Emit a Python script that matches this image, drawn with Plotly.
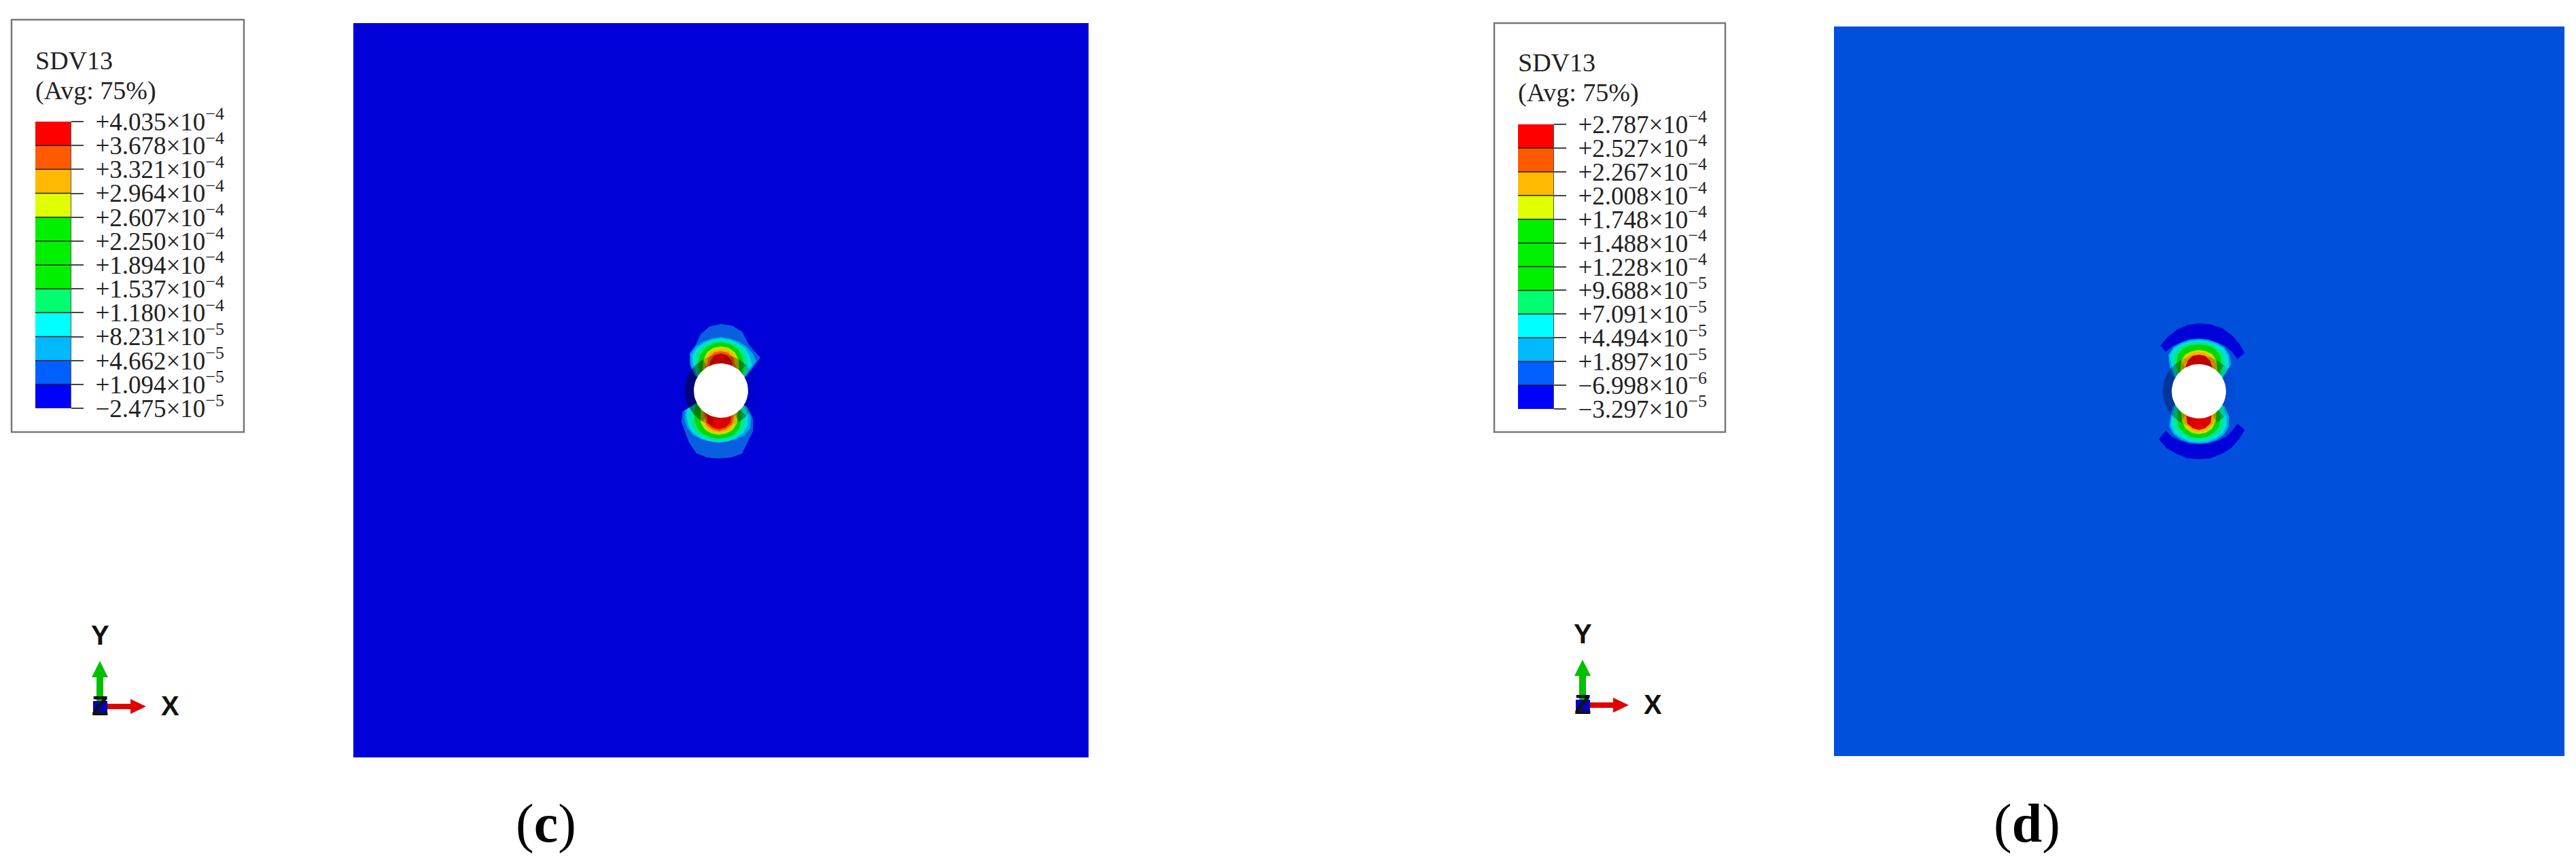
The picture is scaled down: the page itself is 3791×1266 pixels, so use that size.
import numpy as np
import plotly.graph_objects as go

W, H = 3791, 1266

# legend values (figure c, figure d)
legend_c = [4.035e-4, 3.678e-4, 3.321e-4, 2.964e-4, 2.607e-4, 2.250e-4, 1.894e-4,
            1.537e-4, 1.180e-4, 8.231e-5, 4.662e-5, 1.094e-5, -2.475e-5]
labels_c = ["+4.035×10<sup>−4</sup>", "+3.678×10<sup>−4</sup>", "+3.321×10<sup>−4</sup>",
            "+2.964×10<sup>−4</sup>", "+2.607×10<sup>−4</sup>", "+2.250×10<sup>−4</sup>",
            "+1.894×10<sup>−4</sup>", "+1.537×10<sup>−4</sup>", "+1.180×10<sup>−4</sup>",
            "+8.231×10<sup>−5</sup>", "+4.662×10<sup>−5</sup>", "+1.094×10<sup>−5</sup>",
            "−2.475×10<sup>−5</sup>"]
legend_d = [2.787e-4, 2.527e-4, 2.267e-4, 2.008e-4, 1.748e-4, 1.488e-4, 1.228e-4,
            9.688e-5, 7.091e-5, 4.494e-5, 1.897e-5, -6.998e-6, -3.297e-5]
labels_d = ["+2.787×10<sup>−4</sup>", "+2.527×10<sup>−4</sup>", "+2.267×10<sup>−4</sup>",
            "+2.008×10<sup>−4</sup>", "+1.748×10<sup>−4</sup>", "+1.488×10<sup>−4</sup>",
            "+1.228×10<sup>−4</sup>", "+9.688×10<sup>−5</sup>", "+7.091×10<sup>−5</sup>",
            "+4.494×10<sup>−5</sup>", "+1.897×10<sup>−5</sup>", "−6.998×10<sup>−6</sup>",
            "−3.297×10<sup>−5</sup>"]
# legend colours, low to high
legend_colors = ["#0000ff", "#0060ff", "#00b9ff", "#00ffff", "#00ff70", "#00f000",
                 "#00f000", "#00f000", "#e0ff00", "#ffb900", "#ff5a00", "#ff0000"]

plate_c_color = "#0000d8"
plate_d_color = "#0050dc"

# contour bands around the hole, radius read at each angle, outermost band first
band_colors_c = ["#0a5fe0", "#00a8e8", "#00e0d8", "#00e890", "#00d800", "#c8e000",
                 "#ffb000", "#f06000", "#e80000"]
band_colors_d = ["#0000d8", plate_d_color, "#00a8e8", "#00e0d8", "#00e890", "#00d800",
                 "#c8e000", "#ffb000", "#e80000"]
theta_up = [150, 140, 130, 120, 110, 100, 90, 80, 70, 60, 50, 40, 30]
theta_dn = [-150, -140, -130, -120, -110, -100, -90, -80, -70, -60, -50, -40, -30]
c_up = [
    [45, 60, 72, 76, 88, 96, 98, 97, 92, 80, 76, 76, 45],
    [42, 58, 70, 75, 77, 78, 79, 78, 77, 75, 72, 68, 42],
    [40, 52, 66, 72, 74, 76, 77, 76, 74, 72, 66, 60, 40],
    [38, 46, 60, 68, 71, 73, 74, 73, 71, 68, 60, 52, 38],
    [38, 42, 52, 61, 67, 70, 71, 70, 67, 61, 52, 43, 38],
    [36, 36, 42, 52, 60, 64, 65, 64, 60, 52, 42, 36, 36],
    [36, 36, 36, 46, 56, 60, 61, 60, 56, 46, 36, 36, 36],
    [36, 36, 36, 42, 52, 57, 58, 57, 52, 42, 36, 36, 36],
    [36, 36, 36, 36, 46, 53, 55, 53, 46, 36, 36, 36, 36],
]
c_dn = [
    [62, 72, 78, 88, 98, 100, 100, 100, 99, 86, 78, 66, 50],
    [58, 66, 72, 76, 76, 76, 77, 76, 76, 76, 72, 62, 46],
    [54, 62, 69, 73, 75, 76, 76, 76, 74, 72, 66, 56, 42],
    [46, 56, 64, 70, 72, 73, 73, 73, 71, 68, 60, 48, 38],
    [40, 46, 56, 64, 68, 70, 71, 70, 68, 62, 52, 42, 38],
    [36, 36, 42, 54, 61, 64, 65, 64, 61, 54, 42, 36, 36],
    [36, 36, 36, 46, 57, 61, 62, 61, 57, 48, 36, 36, 36],
    [36, 36, 36, 42, 54, 58, 60, 58, 54, 44, 36, 36, 36],
    [36, 36, 36, 36, 50, 55, 57, 55, 50, 36, 36, 36, 36],
]
d_up = [
    [0, 0, 88, 92, 96, 99, 100, 100, 99, 96, 92, 88, 0],
    [36, 36, 76, 77, 77, 78, 78, 78, 77, 77, 76, 74, 36],
    [42, 56, 70, 75, 76, 77, 77, 77, 76, 75, 70, 62, 42],
    [40, 50, 67, 73, 74, 75, 75, 75, 74, 73, 67, 58, 40],
    [38, 44, 60, 68, 71, 72, 72, 72, 71, 68, 60, 50, 38],
    [36, 40, 52, 62, 67, 69, 69, 69, 67, 62, 52, 42, 36],
    [36, 36, 42, 52, 58, 60, 61, 60, 58, 52, 42, 36, 36],
    [36, 36, 36, 48, 54, 57, 58, 57, 54, 48, 36, 36, 36],
    [36, 36, 36, 40, 48, 53, 54, 53, 48, 40, 36, 36, 36],
]
d_dn = [
    [0, 0, 92, 96, 98, 100, 100, 100, 98, 96, 92, 88, 0],
    [36, 36, 76, 78, 78, 78, 78, 78, 78, 78, 76, 74, 36],
    [44, 54, 68, 74, 76, 77, 77, 77, 76, 74, 68, 58, 44],
    [40, 50, 64, 71, 73, 75, 75, 75, 73, 71, 64, 52, 40],
    [38, 44, 58, 66, 69, 71, 72, 71, 69, 66, 58, 44, 38],
    [36, 38, 50, 60, 65, 68, 69, 68, 65, 60, 50, 38, 36],
    [36, 36, 40, 50, 58, 62, 63, 62, 58, 50, 40, 36, 36],
    [36, 36, 36, 46, 54, 59, 60, 59, 54, 46, 36, 36, 36],
    [36, 36, 36, 38, 50, 55, 57, 55, 50, 38, 36, 36, 36],
]
hole_radius = 40
ring_radius = 53
# shading of the ring round the hole, one value per 15 degrees from +x going counter-clockwise
ring_shade = [.05, .05, .15, .35, .3, .2, .2, .2, .4, .42, .42, .42,
              .42, .42, .42, .4, .2, .05, .05, .1, .35, .15, .05, .05]

fig = go.Figure()


def polar(theta, r):
    t = np.radians(np.array(theta, dtype=float))
    r = np.array(r, dtype=float)
    return r * np.cos(t), r * np.sin(t)


def add_poly(x, y, color, xa, ya, opacity=1.0):
    fig.add_trace(go.Scatter(x=list(x), y=list(y), mode="lines", fill="toself", fillcolor=color,
                             line=dict(width=0), opacity=opacity, hoverinfo="skip",
                             showlegend=False, xaxis=xa, yaxis=ya))


def add_lobe(theta, table, colors, xa, ya, dx=0):
    for r, color in zip(table, colors):
        x, y = polar(theta, r)
        add_poly(np.r_[dx, x + dx, dx], np.r_[0, y, 0], color, xa, ya)


def add_ring(xa, ya, dark=1.0):
    for i, s in enumerate(ring_shade):
        t = np.linspace(15 * i, 15 * (i + 1), 5)
        xo, yo = polar(t, np.full(5, ring_radius))
        xi, yi = polar(t[::-1], np.full(5, hole_radius - 2))
        add_poly(np.r_[xo, xi], np.r_[yo, yi], "#000000", xa, ya, opacity=s * dark)


def add_hole(xa, ya):
    t = np.arange(0, 361, 6)
    x, y = polar(t, np.full(t.shape, hole_radius))
    add_poly(x, y, "#ffffff", xa, ya)


# plate (c)
add_lobe(theta_up, c_up, band_colors_c, "x", "y")
add_lobe(theta_dn, c_dn, band_colors_c, "x", "y", dx=-3)
add_ring("x", "y")
add_hole("x", "y")
# plate (d)
add_lobe(theta_up, d_up, band_colors_d, "x2", "y2")
add_lobe(theta_dn, d_dn, band_colors_d, "x2", "y2")
add_ring("x2", "y2", dark=.75)
add_hole("x2", "y2")

# legends: stepped heatmaps with one cell between neighbouring values
steps = []
for i, col in enumerate(legend_colors):
    steps += [[i / 12, col], [(i + 1) / 12, col]]
for vals, xa, ya in [(legend_c, "x3", "y3"), (legend_d, "x4", "y4")]:
    asc = vals[::-1]
    fig.add_trace(go.Heatmap(x=[0, 1], y=asc, z=[[i] for i in range(12)], zmin=0, zmax=12,
                             colorscale=steps, showscale=False, hoverinfo="skip", xaxis=xa, yaxis=ya))


def hx(v):
    return v / W


def vy(v):
    return 1 - v / H


def plate_axes(left, right, top, bottom, cx, cy):
    xa = dict(domain=[hx(left), hx(right)], range=[left - cx, right - cx], visible=False,
              fixedrange=True, automargin=False)
    ya = dict(domain=[vy(bottom), vy(top)], range=[cy - bottom, cy - top], visible=False,
              fixedrange=True, automargin=False)
    return xa, ya


def legend_axes(left, right, top, bottom, vals, labels, anchor):
    xa = dict(domain=[hx(left), hx(right)], range=[0, 1], visible=False, fixedrange=True, automargin=False)
    ya = dict(domain=[vy(bottom), vy(top)], range=[vals[-1], vals[0]], side="right", anchor=anchor,
              tickmode="array", tickvals=vals, ticktext=labels, ticks="outside", ticklen=18,
              tickwidth=1.5, tickcolor="#444444", showline=True, linecolor="#555555", linewidth=1,
              showgrid=False, zeroline=False, fixedrange=True, automargin=False, ticklabelstandoff=10,
              tickfont=dict(family="Liberation Serif", size=37, color="#222222"))
    return xa, ya


xa1, ya1 = plate_axes(520, 1602, 34, 1115, 1061, 575)
xa2, ya2 = plate_axes(2699, 3774, 39, 1113, 3236, 576)
xa3, ya3 = legend_axes(52, 104, 179, 601, legend_c, labels_c, "x3")
xa4, ya4 = legend_axes(2234, 2286, 183, 602, legend_d, labels_d, "x4")

shapes = [
    dict(type="rect", xref="x", yref="y", x0=520 - 1061, x1=1602 - 1061, y0=575 - 1115, y1=575 - 34,
         fillcolor=plate_c_color, line_width=0, layer="below"),
    dict(type="rect", xref="x2", yref="y2", x0=2699 - 3236, x1=3774 - 3236, y0=576 - 1113, y1=576 - 39,
         fillcolor=plate_d_color, line_width=0, layer="below"),
    dict(type="rect", xref="paper", yref="paper", x0=hx(17), x1=hx(359), y0=vy(636), y1=vy(29),
         line=dict(color="#777777", width=2.5), layer="below"),
    dict(type="rect", xref="paper", yref="paper", x0=hx(2199), x1=hx(2539), y0=vy(636), y1=vy(34),
         line=dict(color="#777777", width=2.5), layer="below"),
]
for vals, xa_name, ya_name in [(legend_c, "x3", "y3"), (legend_d, "x4", "y4")]:
    for v in vals[1:-1]:
        shapes.append(dict(type="line", xref=xa_name + " domain", yref=ya_name, x0=0, x1=1, y0=v, y1=v,
                           line=dict(color="#222222", width=1.5)))


def poly_path(points):
    return "M" + " L".join(f"{hx(a):.6f},{vy(b):.6f}" for a, b in points) + " Z"


def triad(ox, oy):
    out = []
    out.append(dict(type="path", xref="paper", yref="paper", line_width=0, fillcolor="#00c000",
                    path=poly_path([(ox - 5, oy), (ox - 5, oy - 43), (ox - 12, oy - 43), (ox, oy - 67),
                                    (ox + 12, oy - 43), (ox + 5, oy - 43), (ox + 5, oy)])))
    out.append(dict(type="path", xref="paper", yref="paper", line_width=0, fillcolor="#e00000",
                    path=poly_path([(ox + 10, oy - 4), (ox + 45, oy - 4), (ox + 45, oy - 11), (ox + 68, oy),
                                    (ox + 45, oy + 11), (ox + 45, oy + 4), (ox + 10, oy + 4)])))
    out.append(dict(type="rect", xref="paper", yref="paper", line_width=0, fillcolor="#0000c0",
                    x0=hx(ox - 10), x1=hx(ox + 11), y0=vy(oy + 10), y1=vy(oy - 8)))
    return out


shapes += triad(147, 1040) + triad(2329, 1038)


def text(x, y, s, size, family="Liberation Serif", anchor="left", color="#222222"):
    return dict(xref="paper", yref="paper", x=hx(x), y=vy(y), text=s, showarrow=False, xanchor=anchor,
                yanchor="middle", align=anchor, font=dict(family=family, size=size, color=color))


annotations = [
    text(50, 89, "SDV13", 38), text(50, 133, "(Avg: 75%)", 38),
    text(2232, 92, "SDV13", 38), text(2232, 137, "(Avg: 75%)", 38),
    text(803, 1212, "(<b>c</b>)", 80, anchor="center", color="#000000"),
    text(2983, 1212, "(<b>d</b>)", 80, anchor="center", color="#000000"),
]
for ox, oy, ty in [(147, 1040, 935), (2329, 1038, 933)]:
    annotations += [
        text(ox, ty, "<b>Y</b>", 40, "Liberation Sans", "center", "#111111"),
        text(ox, oy - 1, "<b>Z</b>", 40, "Liberation Sans", "center", "#111111"),
        text(ox + 103, oy - 1, "<b>X</b>", 40, "Liberation Sans", "center", "#111111"),
    ]

fig.update_layout(width=W, height=H, margin=dict(l=0, r=0, t=0, b=0), paper_bgcolor="white",
                  plot_bgcolor="rgba(0,0,0,0)", showlegend=False, shapes=shapes, annotations=annotations,
                  xaxis=xa1, yaxis=ya1, xaxis2=dict(xa2, anchor="y2"), yaxis2=dict(ya2, anchor="x2"),
                  xaxis3=dict(xa3, anchor="y3"), yaxis3=ya3, xaxis4=dict(xa4, anchor="y4"), yaxis4=ya4)

fig.write_html("out.html", post_script="document.body.style.margin='0';",
               config={"displayModeBar": False})
